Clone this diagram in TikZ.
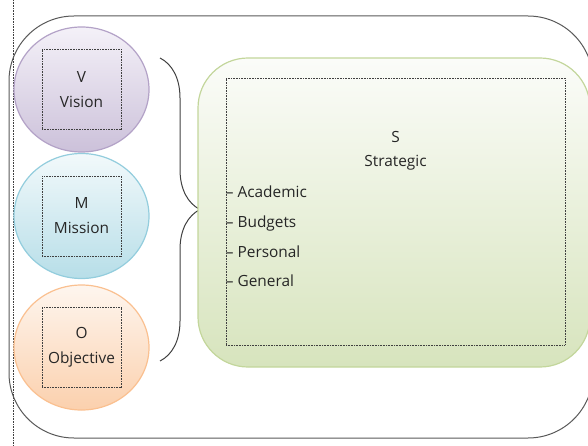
\documentclass[tikz,border=0pt]{standalone}
\usepackage{fontspec}
\setmainfont{Open Sans}
\usetikzlibrary{shapes.geometric, positioning, decorations.pathreplacing}

\definecolor{txtgray}{HTML}{262626}
\definecolor{dotgray}{HTML}{404040}
\definecolor{framegray}{HTML}{595959}
\definecolor{visionline}{HTML}{B3A2C7}
\definecolor{visiontop}{HTML}{F4F1F8}
\definecolor{visionbot}{HTML}{CCC1DA}
\definecolor{missionline}{HTML}{93CDDD}
\definecolor{missiontop}{HTML}{F2F9FB}
\definecolor{missionbot}{HTML}{B7DEE8}
\definecolor{objline}{HTML}{FAC090}
\definecolor{objtop}{HTML}{FEF6EF}
\definecolor{objbot}{HTML}{FBD0AD}
\definecolor{stratline}{HTML}{C3D69B}
\definecolor{strattop}{HTML}{FBFCF9}
\definecolor{stratbot}{HTML}{D7E4BD}

\tikzset{
  txt/.style={font=\fontsize{15.4bp}{25bp}\selectfont, text=txtgray, align=center},
  ball/.style={ellipse, minimum width=135bp, minimum height=125bp, line width=1.2bp, inner sep=0pt},
  dotbox/.style={draw=dotgray, dash pattern=on 0.8bp off 0.8bp, line width=0.6bp, rectangle,
    minimum width=79bp, minimum height=80bp, inner sep=0pt},
}

\begin{document}
\begin{tikzpicture}[x=1bp, y=-1bp]
    \useasboundingbox (0,0) rectangle (588,446);

    % frame %
      \draw[dotgray, dash pattern=on 0.8bp off 0.8bp, line width=0.6bp] (13,0) -- (13,446);
      \draw[framegray, line width=1bp, rounded corners=65bp] (9,16) rectangle (593,438);

    % brace %
      \coordinate (bracetop) at (160,58);
      \coordinate (bracebot) at (160,361);
      \draw[dotgray, line width=1bp, decorate, decoration={brace, amplitude=40bp}] (bracetop) -- (bracebot);

    % strategic box %
      \node[rectangle, rounded corners=50bp, draw=stratline, line width=1.2bp, top color=strattop, bottom color=stratbot,
        minimum width=392bp, minimum height=309bp] (strat) at (394,212.5) {};
      \node[dotbox, minimum width=339bp, minimum height=267bp] (sbox) at (395.5,211.5) {};
      \node[txt, font=\fontsize{15.4bp}{24bp}\selectfont] (stitle) at ([yshift=60.5bp]sbox.center) {S\\Strategic};
      \node[txt, align=left, anchor=west, inner sep=0pt, font=\fontsize{15.4bp}{29.7bp}\selectfont] (slist)
        at ([yshift=-25bp]sbox.west) {-- Academic\\-- Budgets\\-- Personal\\-- General};

    % circles %
      \node[ball, draw=visionline, top color=visiontop, bottom color=visionbot] (vision) at (81.5,89.5) {};
      \node[ball, below of = vision, node distance=126.5bp, draw=missionline, top color=missiontop, bottom color=missionbot] (mission) {};
      \node[ball, below of = mission, node distance=131.5bp, draw=objline, top color=objtop, bottom color=objbot] (objective) {};

      \node[dotbox, txt] (vbox) at (vision) {V\\Vision};
      \node[dotbox, txt] (mbox) at (mission) {M\\Mission};
      \node[dotbox, txt] (obox) at (objective) {O\\Objective};
    \end{tikzpicture}
\end{document}
